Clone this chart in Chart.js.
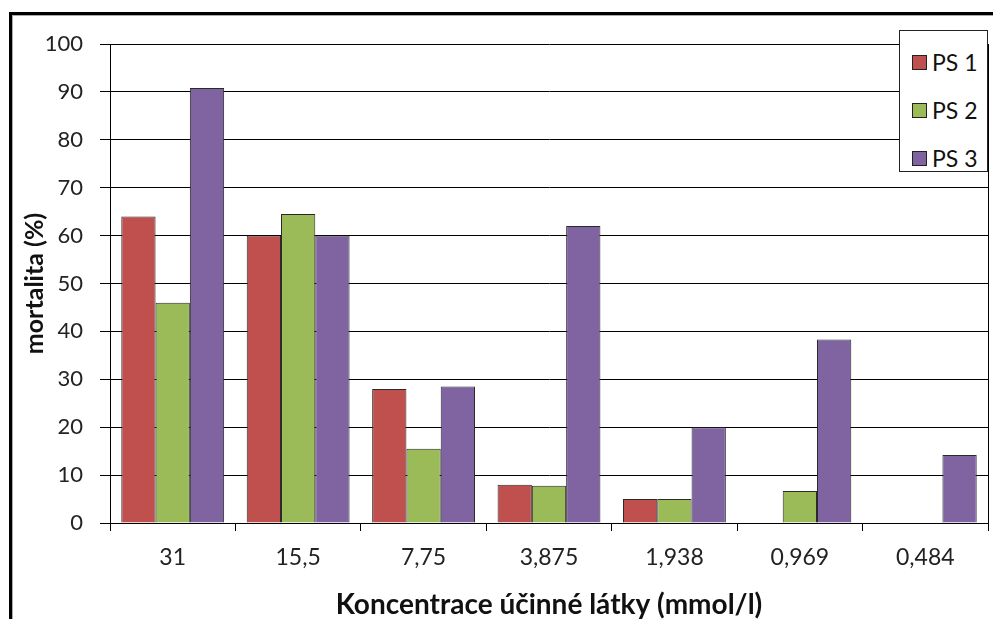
<!DOCTYPE html>
<html>
<head>
<meta charset="utf-8">
<script src="https://cdn.jsdelivr.net/npm/chart.js@4"></script>
<style>
    body { margin: 0; background: #fff; }
    #wrap { position: relative; width: 993px; height: 619px; overflow: hidden; font-family: Lato, sans-serif; }
    #frame { position: absolute; left: 9px; top: 12px; width: 1000px; height: 700px;
             border-top: 3px solid #000; border-left: 3px solid #000; box-shadow: inset 1px 1px 0 #aaa; }
    #legend { position: absolute; left: 899px; top: 30px; width: 89px; height: 142px;
              background: #fff; border: 1px solid #222; box-sizing: border-box; }
    .item { position: absolute; left: 12px; height: 26px; display: flex; align-items: center;
            font-size: 23px; color: #111; }
    .box { width: 13px; height: 13px; border: 1px solid #222; margin-right: 5px; }
</style>
</head>
<body>
<div id="wrap">
    <div id="frame"></div>
    <canvas id="chart"></canvas>
    <div id="legend"></div>
</div>
<script>
// Data
const categories = ['31', '15,5', '7,75', '3,875', '1,938', '0,969', '0,484'];
const ps1 = [64, 60, 28, 8, 5, 0, 0];
const ps2 = [46, 64.5, 15.5, 7.8, 5, 6.7, 0];
const ps3 = [90.8, 60, 28.5, 62, 20, 38.3, 14.2];
const seriesNames = ['PS 1', 'PS 2', 'PS 3'];
const seriesColors = ['#C0504D', '#9BBB59', '#8064A2'];
const yTicks = [0, 10, 20, 30, 40, 50, 60, 70, 80, 90, 100];

const font = 'Lato';

const datasets = [ps1, ps2, ps3].map((values, i) => ({
    label: seriesNames[i],
    data: values,
    backgroundColor: seriesColors[i],
    borderColor: '#2a2a2a',
    borderWidth: 1,
    barPercentage: 1,
    categoryPercentage: 0.82
}));

const ctx = document.getElementById('chart').getContext('2d');
const chart = new Chart(ctx, {
    type: 'bar',
    data: { labels: categories, datasets: datasets },
    options: {
        responsive: true,
        maintainAspectRatio: false,
        animation: false,
        layout: { padding: { left: 0, top: 44, right: 5, bottom: 0 } },
        plugins: {
            legend: { display: false },
            tooltip: { enabled: false }
        },
        scales: {
            x: {
                grid: { offset: true, drawOnChartArea: false, tickLength: 8, color: '#000' },
                border: { color: '#000' },
                ticks: { font: { family: font, size: 23 }, color: '#222', padding: 13 },
                title: {
                    display: true,
                    text: 'Koncentrace účinné látky (mmol/l)',
                    font: { family: font, size: 28, weight: 'bold', lineHeight: 1 },
                    color: '#111',
                    padding: { top: 0, bottom: 0 }
                },
                afterFit: s => { s.height = 96; }
            },
            y: {
                min: 0,
                max: 100,
                afterBuildTicks: s => { s.ticks = yTicks.map(v => ({ value: v })); },
                grid: { color: '#000', tickLength: 10 },
                border: { color: '#000' },
                ticks: { font: { family: font, size: 22 }, color: '#222', padding: 17 },
                title: {
                    display: true,
                    text: 'mortalita (%)',
                    font: { family: font, size: 25, weight: 'bold', lineHeight: 1 },
                    color: '#111',
                    padding: { top: 22, bottom: 0 }
                },
                afterFit: s => { s.width = 110; }
            },
            yRight: {
                position: 'right',
                grid: { drawOnChartArea: false, drawTicks: false },
                border: { color: '#000' },
                ticks: { display: false },
                afterFit: s => { s.width = 0; }
            }
        }
    }
});

// Legend built from the same series arrays
const legend = document.getElementById('legend');
seriesNames.forEach((name, i) => {
    const item = document.createElement('div');
    item.className = 'item';
    item.style.top = (18 + i * 48) + 'px';
    item.innerHTML = `<span class="box" style="background:${seriesColors[i]}"></span>${name}`;
    legend.appendChild(item);
});
</script>
</body>
</html>
